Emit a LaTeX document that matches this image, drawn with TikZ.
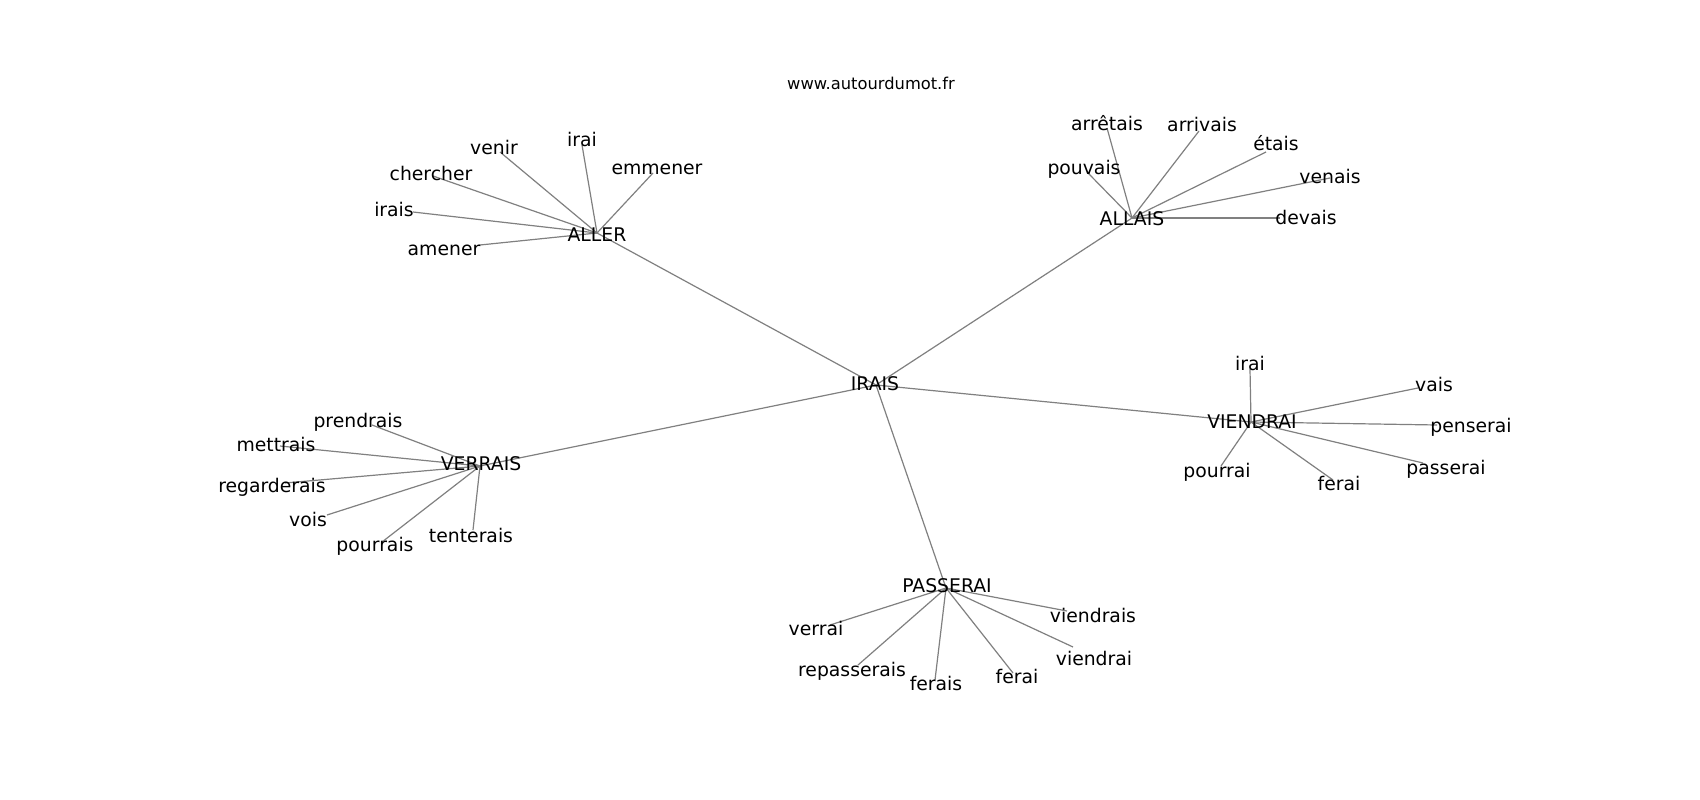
\documentclass[tikz,border=0pt]{standalone}
\usepackage{fontspec}
\setmainfont{DejaVu Sans}
\definecolor{edgegray}{RGB}{128,128,128}
\begin{document}
\begin{tikzpicture}[x=1pt,y=-1pt,
  lbl/.style={inner sep=0pt, text height=0.73em, text depth=0pt, yshift=-4pt, font=\fontsize{18.8}{20}\selectfont, text=black},
  ttl/.style={inner sep=0pt, text height=0.73em, text depth=0pt, yshift=-3pt, font=\fontsize{16.3}{18}\selectfont, text=black},
  edge/.style={draw=edgegray, line width=1.2pt}]
\useasboundingbox[fill=white] (0,0) rectangle (1700,800);
% hubs
\coordinate (irais) at (876,385);
\coordinate (aller) at (597,233);
\coordinate (allais) at (1132,218);
\coordinate (viendrai) at (1251,422);
\coordinate (verrais) at (480,466);
\coordinate (passerai) at (946,588);
% leaves ALLER
\coordinate (a1) at (500,152);
\coordinate (a2) at (582,145);
\coordinate (a3) at (653,173);
\coordinate (a4) at (433,176);
\coordinate (a5) at (413,212);
\coordinate (a6) at (480,245);
% leaves ALLAIS
\coordinate (b1) at (1107,128);
\coordinate (b2) at (1199,131);
\coordinate (b3) at (1088,173);
\coordinate (b4) at (1266,152);
\coordinate (b5) at (1330,178);
\coordinate (b6) at (1280,218);
% leaves VIENDRAI
\coordinate (c1) at (1250,369);
\coordinate (c2) at (1418,388);
\coordinate (c3) at (1437,425);
\coordinate (c4) at (1423,463);
\coordinate (c5) at (1333,480);
\coordinate (c6) at (1221,466);
% leaves VERRAIS
\coordinate (d1) at (372,425);
\coordinate (d2) at (280,446);
\coordinate (d3) at (285,483);
\coordinate (d4) at (327,515);
\coordinate (d5) at (382,542);
\coordinate (d6) at (473,530);
% leaves PASSERAI
\coordinate (e1) at (830,625);
\coordinate (e2) at (858,665);
\coordinate (e3) at (935,680);
\coordinate (e4) at (1013,673);
\coordinate (e5) at (1067,611);
\coordinate (e6) at (1073,647);
% edges
\foreach \h in {aller,allais,viendrai,verrais,passerai} \draw[edge] (irais) -- (\h);
\foreach \l in {a1,a2,a3,a4,a5,a6} \draw[edge] (aller) -- (\l);
\foreach \l in {b1,b2,b3,b4,b5,b6} \draw[edge] (allais) -- (\l);
\foreach \l in {c1,c2,c3,c4,c5,c6} \draw[edge] (viendrai) -- (\l);
\foreach \l in {d1,d2,d3,d4,d5,d6} \draw[edge] (verrais) -- (\l);
\foreach \l in {e1,e2,e3,e4,e5,e6} \draw[edge] (passerai) -- (\l);
% labels
\node[ttl] (title) at (871,83) {www.autourdumot.fr};
\node[lbl] (iraisL) at (875,383) {IRAIS};
\node[lbl] (allerL) at (597,234) {ALLER};
\node[lbl] (allaisL) at (1132,218) {ALLAIS};
\node[lbl] (viendraiL) at (1252,421) {VIENDRAI};
\node[lbl] (verraisL) at (481,463) {VERRAIS};
\node[lbl] (passeraiL) at (947,585) {PASSERAI};
\node[lbl] (a1L) at (494,147) {venir};
\node[lbl] (a2L) at (582,139) {irai};
\node[lbl] (a3L) at (657,167) {emmener};
\node[lbl] (a4L) at (431,173) {chercher};
\node[lbl] (a5L) at (394,209) {irais};
\node[lbl] (a6L) at (444,248) {amener};
\node[lbl] (b1L) at (1107,123) {arrêtais};
\node[lbl] (b2L) at (1202,124) {arrivais};
\node[lbl] (b3L) at (1084,167) {pouvais};
\node[lbl] (b4L) at (1276,143) {étais};
\node[lbl] (b5L) at (1330,176) {venais};
\node[lbl] (b6L) at (1306,217) {devais};
\node[lbl] (c1L) at (1250,363) {irai};
\node[lbl] (c2L) at (1434,384) {vais};
\node[lbl] (c3L) at (1471,425) {penserai};
\node[lbl] (c4L) at (1446,467) {passerai};
\node[lbl] (c5L) at (1339,483) {ferai};
\node[lbl] (c6L) at (1217,470) {pourrai};
\node[lbl] (d1L) at (358,420) {prendrais};
\node[lbl] (d2L) at (276,444) {mettrais};
\node[lbl] (d3L) at (272,485) {regarderais};
\node[lbl] (d4L) at (308,519) {vois};
\node[lbl] (d5L) at (375,544) {pourrais};
\node[lbl] (d6L) at (471,535) {tenterais};
\node[lbl] (e1L) at (816,628) {verrai};
\node[lbl] (e2L) at (852,669) {repasserais};
\node[lbl] (e3L) at (936,683) {ferais};
\node[lbl] (e4L) at (1017,676) {ferai};
\node[lbl] (e5L) at (1093,615) {viendrais};
\node[lbl] (e6L) at (1094,658) {viendrai};
\end{tikzpicture}
\end{document}
